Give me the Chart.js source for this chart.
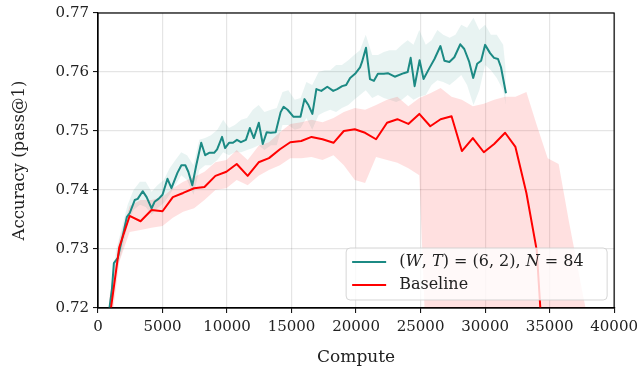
<!DOCTYPE html>
<html>
<head>
<meta charset="utf-8">
<script src="https://cdn.jsdelivr.net/npm/chart.js@4.4.1/dist/chart.umd.min.js"></script>
<style>
  html, body { margin: 0; padding: 0; background: #fff; }
</style>
</head>
<body>
<canvas id="acc_chart" width="643" height="370"></canvas>
<script>
// (W,T)=(6,2), N=84 run
var teal_x = [846, 1077, 1231, 1538, 1846, 2231, 2462, 2846, 3077, 3462, 3769, 4154, 4385, 4692, 5000,
  5385, 5692, 6154, 6462, 6769, 7000, 7308, 7615, 8000, 8308, 8615, 9000, 9231, 9615, 9846,
  10154, 10462, 10769, 11077, 11462, 11769, 12077, 12462, 12769, 13077, 13385, 13769, 14154, 14385, 14692,
  15154, 15692, 16000, 16308, 16615, 16923, 17308, 17769, 18231, 18538, 18923, 19231, 19538, 19923, 20308,
  20462, 20769, 21077, 21385, 21692, 22154, 22462, 23000, 23692, 24000, 24231, 24538, 24923, 25231, 25692,
  26077, 26538, 26846, 27231, 27615, 28077, 28385, 28769, 29077, 29385, 29692, 30000, 30385, 30692, 31000,
  31231, 31615];
var teal_acc = [0.7193, 0.7231, 0.7276, 0.7285, 0.7315, 0.7354, 0.7361, 0.7383, 0.7385, 0.7398, 0.7388, 0.7369, 0.7380, 0.7385, 0.7392,
  0.7419, 0.7403, 0.7429, 0.7442, 0.7442, 0.7431, 0.7408, 0.7442, 0.7480, 0.7459, 0.7463, 0.7463, 0.7469, 0.7490, 0.7471,
  0.7480, 0.7480, 0.7485, 0.7481, 0.7485, 0.7505, 0.7488, 0.7514, 0.7478, 0.7498, 0.7497, 0.7498, 0.7532, 0.7541, 0.7536,
  0.7524, 0.7524, 0.7554, 0.7544, 0.7529, 0.7571, 0.7568, 0.7575, 0.7568, 0.7571, 0.7576, 0.7578, 0.7590, 0.7597, 0.7608,
  0.7617, 0.7641, 0.7588, 0.7585, 0.7597, 0.7597, 0.7598, 0.7592, 0.7598, 0.7600, 0.7624, 0.7576, 0.7620, 0.7588, 0.7607,
  0.7622, 0.7644, 0.7619, 0.7617, 0.7625, 0.7647, 0.7639, 0.7617, 0.7590, 0.7614, 0.7619, 0.7646, 0.7632, 0.7624, 0.7622,
  0.7608, 0.7564];

// shaded band of the run
var teal_band_x = [900, 1400, 1850, 2300, 2750, 3250, 3700, 4150, 4600, 5100, 5550, 6000, 6450, 6900, 7400, 7850, 8300,
  8750, 9250, 9700, 10150, 10600, 11100, 11550, 12000, 12450, 12900, 13400, 13850, 14300, 14750, 15250, 15700,
  16150, 16600, 17100, 17550, 18000, 18450, 18900, 19400, 19850, 20300, 20750, 21250, 21700, 22150, 22600,
  23100, 23550, 24000, 24450, 24900, 25400, 25850, 26300, 26750, 27250, 27700, 28150, 28600, 29100, 29550,
  30000, 30450, 30900, 31400, 31600];
var teal_hi = [0.7214, 0.7298, 0.7336, 0.7375, 0.7400, 0.7414, 0.7414, 0.7397, 0.7408, 0.7417, 0.7437, 0.7451, 0.7464,
  0.7459, 0.7442, 0.7485, 0.7488, 0.7493, 0.7502, 0.7519, 0.7505, 0.7510, 0.7519, 0.7522, 0.7536, 0.7544, 0.7532,
  0.7536, 0.7539, 0.7566, 0.7569, 0.7553, 0.7556, 0.7583, 0.7578, 0.7600, 0.7603, 0.7603, 0.7612, 0.7612, 0.7620,
  0.7629, 0.7637, 0.7663, 0.7629, 0.7629, 0.7634, 0.7637, 0.7637, 0.7646, 0.7654, 0.7646, 0.7671, 0.7646, 0.7654,
  0.7671, 0.7663, 0.7658, 0.7663, 0.7680, 0.7675, 0.7692, 0.7671, 0.7680, 0.7663, 0.7663, 0.7646, 0.7603];
var teal_lo = [0.7180, 0.7261, 0.7295, 0.7341, 0.7366, 0.7375, 0.7371, 0.7358, 0.7369, 0.7378, 0.7392, 0.7408, 0.7425,
  0.7417, 0.7392, 0.7434, 0.7442, 0.7442, 0.7451, 0.7464, 0.7459, 0.7464, 0.7464, 0.7468, 0.7471, 0.7476, 0.7468,
  0.7476, 0.7476, 0.7510, 0.7510, 0.7502, 0.7505, 0.7522, 0.7502, 0.7527, 0.7532, 0.7536, 0.7532, 0.7539, 0.7544,
  0.7553, 0.7561, 0.7569, 0.7556, 0.7561, 0.7556, 0.7553, 0.7549, 0.7553, 0.7561, 0.7553, 0.7558, 0.7561, 0.7578,
  0.7586, 0.7583, 0.7578, 0.7586, 0.7595, 0.7578, 0.7544, 0.7569, 0.7612, 0.7603, 0.7590, 0.7569, 0.7544];

// baseline
var base_x = [850, 1650, 2450, 3300, 4150, 5000, 5800, 6600, 7450, 8250, 9100, 9950, 10750, 11600, 12450, 13250,
  14100, 14900, 15750, 16550, 17400, 18250, 19050, 19900, 20700, 21550, 22400, 23200, 24050, 24900, 25750,
  26550, 27400, 28200, 29050, 29900, 30700, 31550, 32350, 33200, 34000, 34850, 35700, 36500, 37350, 38200];
var base_acc = [0.7175, 0.7303, 0.7356, 0.7347, 0.7366, 0.7364, 0.7388, 0.7395, 0.7403, 0.7405, 0.7424, 0.7431, 0.7444,
  0.7424, 0.7447, 0.7454, 0.7469, 0.7481, 0.7483, 0.7490, 0.7486, 0.7480, 0.7500, 0.7503, 0.7497, 0.7486, 0.7514,
  0.7520, 0.7512, 0.7529, 0.7508, 0.7520, 0.7525, 0.7466, 0.7488, 0.7464, 0.7478, 0.7497, 0.7473, 0.7395, 0.7298,
  0.7000, 0.6950, 0.6900, 0.6880, 0.6850];
var base_hi = [0.7214, 0.7315, 0.7373, 0.7383, 0.7383, 0.7388, 0.7403, 0.7414, 0.7422, 0.7431, 0.7447, 0.7451, 0.7468,
  0.7451, 0.7475, 0.7481, 0.7498, 0.7512, 0.7515, 0.7519, 0.7515, 0.7522, 0.7532, 0.7539, 0.7536, 0.7544, 0.7553,
  0.7558, 0.7542, 0.7556, 0.7564, 0.7573, 0.7558, 0.7553, 0.7542, 0.7546, 0.7553, 0.7558, 0.7558, 0.7566, 0.7510,
  0.7454, 0.7444, 0.7346, 0.7249, 0.7153];
var base_lo = [0.7140, 0.7278, 0.7329, 0.7332, 0.7336, 0.7339, 0.7353, 0.7363, 0.7369, 0.7383, 0.7400, 0.7403, 0.7417,
  0.7408, 0.7424, 0.7434, 0.7442, 0.7454, 0.7454, 0.7456, 0.7451, 0.7459, 0.7442, 0.7417, 0.7412, 0.7456, 0.7451,
  0.7446, 0.7437, 0.7425, 0.6950, 0.6900, 0.6880, 0.6860, 0.6840, 0.6820, 0.6800, 0.6800, 0.6780, 0.6760, 0.6740,
  0.6720, 0.6700, 0.6680, 0.6660, 0.6640];

var x_ticks = [0, 5000, 10000, 15000, 20000, 25000, 30000, 35000, 40000];
var y_ticks = [0.72, 0.73, 0.74, 0.75, 0.76, 0.77];

var TEAL = '#1c8a84';
var RED = '#ff0000';
var SERIF = '"DejaVu Serif", serif';

function pts(xs, ys) {
  return xs.map(function (x, i) { return { x: x, y: ys[i] }; });
}

// all four spines + legend box in the lower right
var frame_and_legend = {
  id: 'frame_and_legend',
  afterDatasetsDraw: function (chart) {
    var ctx = chart.ctx, a = chart.chartArea;
    ctx.save();
    ctx.strokeStyle = '#000';
    ctx.lineWidth = 1.2;
    ctx.strokeRect(a.left, a.top, a.right - a.left, a.bottom - a.top);

    var w = 261, h = 52;
    var bx = a.right - 7 - w, by = a.bottom - 8 - h;
    ctx.beginPath();
    ctx.roundRect(bx, by, w, h, 4);
    ctx.fillStyle = 'rgba(255,255,255,0.8)';
    ctx.fill();
    ctx.strokeStyle = 'rgba(204,204,204,0.8)';
    ctx.lineWidth = 1;
    ctx.stroke();

    var items = [chart.data.datasets[1], chart.data.datasets[0]];
    items.forEach(function (ds, i) {
      var y = by + 14 + i * 23;
      ctx.beginPath();
      ctx.moveTo(bx + 6, y);
      ctx.lineTo(bx + 40, y);
      ctx.strokeStyle = ds.borderColor;
      ctx.lineWidth = 2;
      ctx.stroke();
      drawMath(ctx, ds.label, bx + 53, y);
    });
    ctx.restore();
  }
};

// text between $..$ gets italic letters
function drawMath(ctx, label, x, y) {
  ctx.textBaseline = 'middle';
  ctx.textAlign = 'left';
  ctx.fillStyle = '#222';
  var math = false;
  for (var i = 0; i < label.length; i++) {
    var c = label[i];
    if (c === '$') { math = !math; continue; }
    var it = math && /[A-Za-z]/.test(c);
    ctx.font = (it ? 'italic ' : '') + '16px ' + SERIF;
    ctx.fillText(c, x, y);
    x += ctx.measureText(c).width;
  }
}

new Chart(document.getElementById('acc_chart'), {
  type: 'line',
  data: {
    datasets: [
      { label: 'Baseline', data: pts(base_x, base_acc), borderColor: RED, borderWidth: 2, pointRadius: 0, fill: false },
      { label: '$(W, T) = (6, 2)$, $N = 84$', data: pts(teal_x, teal_acc), borderColor: TEAL, borderWidth: 2, pointRadius: 0, fill: false },
      { label: 'base_hi', data: pts(base_x, base_hi), borderColor: 'transparent', pointRadius: 0, fill: '+1', backgroundColor: 'rgba(255,0,0,0.12)' },
      { label: 'base_lo', data: pts(base_x, base_lo), borderColor: 'transparent', pointRadius: 0, fill: false },
      { label: 'teal_hi', data: pts(teal_band_x, teal_hi), borderColor: 'transparent', pointRadius: 0, fill: '+1', backgroundColor: 'rgba(28,138,132,0.1)' },
      { label: 'teal_lo', data: pts(teal_band_x, teal_lo), borderColor: 'transparent', pointRadius: 0, fill: false }
    ]
  },
  options: {
    responsive: false,
    animation: false,
    devicePixelRatio: 1,
    layout: { padding: { left: 0, right: 25, top: 13, bottom: 0 } },
    elements: { line: { tension: 0, borderJoinStyle: 'round' } },
    plugins: { legend: { display: false }, tooltip: { enabled: false } },
    scales: {
      x: {
        type: 'linear', min: 0, max: 40000,
        afterBuildTicks: function (s) { s.ticks = x_ticks.map(function (v) { return { value: v }; }); },
        afterFit: function (s) { s.height = 62; },
        ticks: { color: '#222', font: { family: SERIF, size: 15 }, padding: 5, maxRotation: 0, autoSkip: false,
          callback: function (v) { return String(v); } },
        grid: { color: 'rgba(0,0,0,0.1)', lineWidth: 1.2, tickColor: '#000', tickLength: 5, tickWidth: 1 },
        border: { color: '#000', width: 1.2 },
        title: { display: true, text: 'Compute', color: '#222', font: { family: SERIF, size: 17 }, padding: { top: 0, bottom: 2 } }
      },
      y: {
        type: 'linear', min: 0.72, max: 0.77,
        afterBuildTicks: function (s) { s.ticks = y_ticks.map(function (v) { return { value: v }; }); },
        afterFit: function (s) { s.width = 98; },
        ticks: { color: '#222', font: { family: SERIF, size: 15 }, padding: 4,
          callback: function (v) { return v.toFixed(2); } },
        grid: { color: 'rgba(0,0,0,0.1)', lineWidth: 1.2, tickColor: '#000', tickLength: 5, tickWidth: 1 },
        border: { color: '#000', width: 1.2 },
        title: { display: true, text: 'Accuracy (pass@1)', color: '#222', font: { family: SERIF, size: 16.5 }, padding: { top: 10, bottom: 0 } }
      }
    }
  },
  plugins: [frame_and_legend]
});
</script>
</body>
</html>
